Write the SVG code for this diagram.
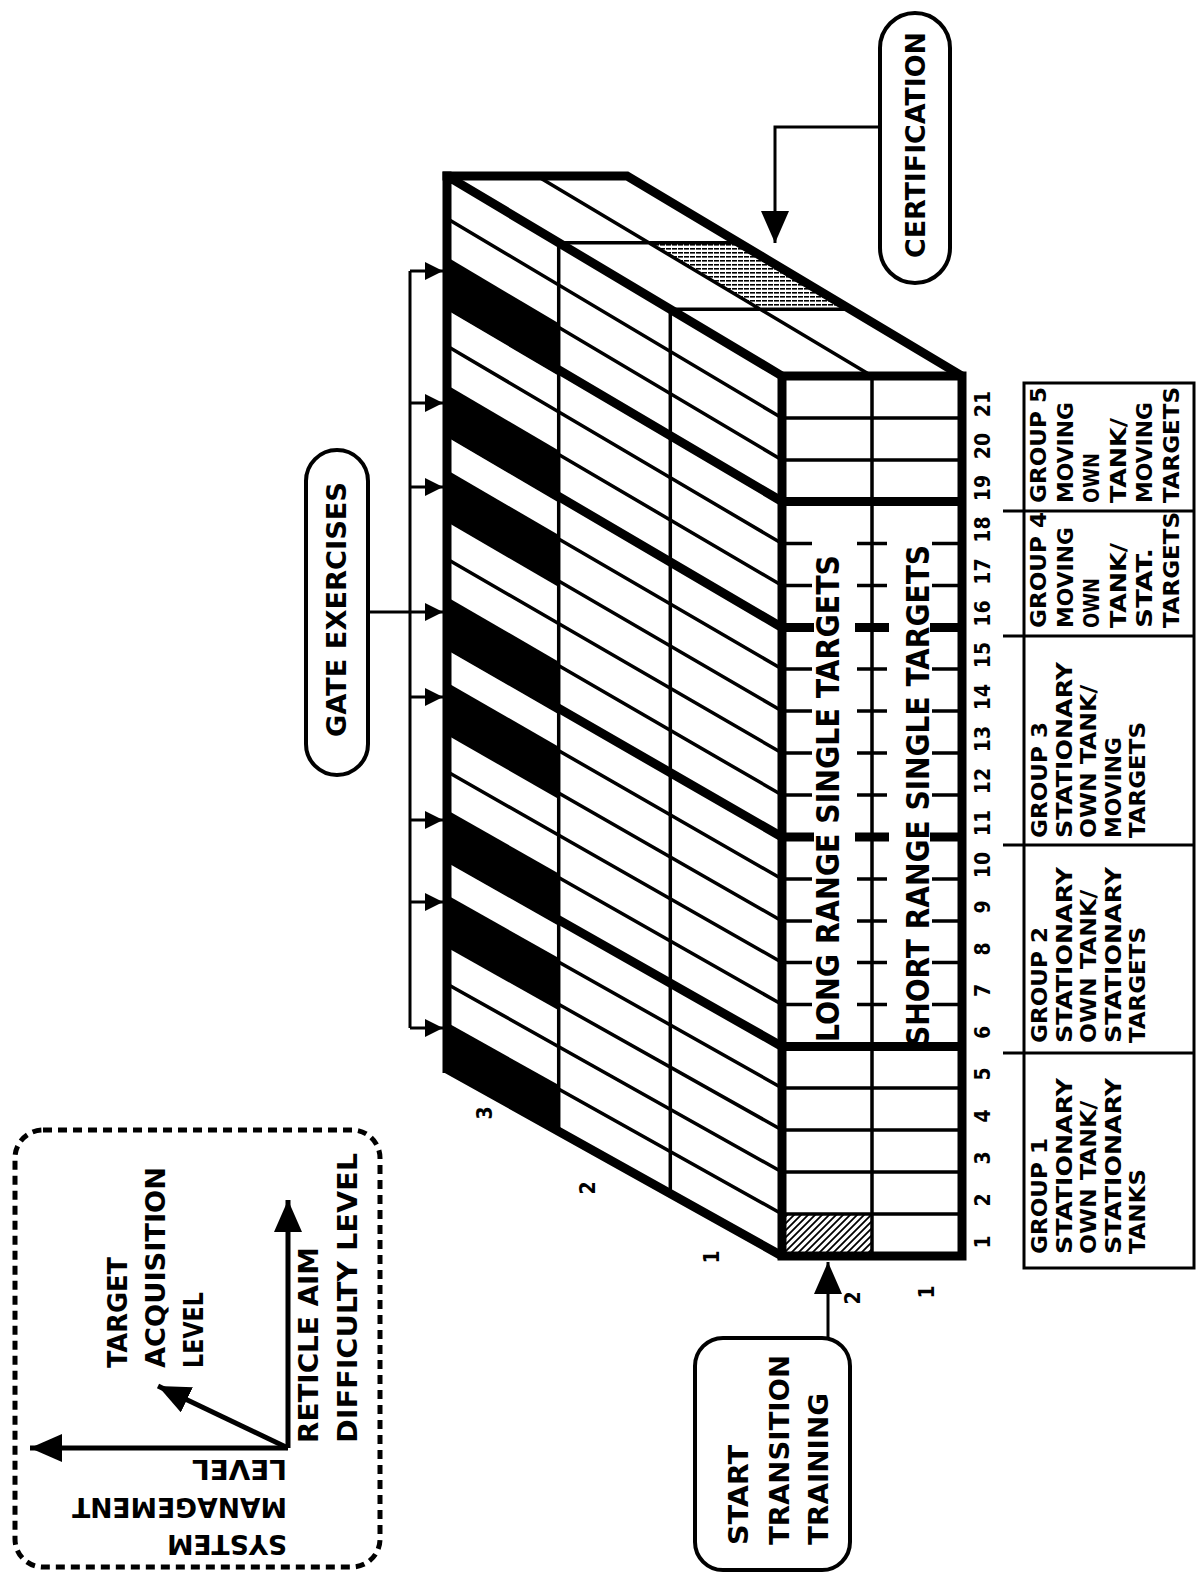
<svg xmlns="http://www.w3.org/2000/svg" width="1199" height="1573" viewBox="0 0 1199 1573">
<style>
.b{font-family:'DejaVu Sans Condensed','DejaVu Sans','Liberation Sans',sans-serif;font-weight:700;fill:#000}
.thin{stroke:#000;stroke-width:3.5;fill:none}
.thick{stroke:#000;stroke-width:9;fill:none}
.med{stroke:#000;stroke-width:3;fill:none}
.ax{stroke:#000;stroke-width:5;fill:none}
.box{fill:#fff;stroke:#000;stroke-width:4}
</style>
<defs>
<marker id="ag" viewBox="0 0 18 18" refX="18" refY="9" markerWidth="18" markerHeight="18" markerUnits="userSpaceOnUse" orient="auto"><path d="M0 0L18 9L0 18z"/></marker>
<marker id="ab" viewBox="0 0 32 28" refX="32" refY="14" markerWidth="32" markerHeight="28" markerUnits="userSpaceOnUse" orient="auto"><path d="M0 0L32 14L0 28z"/></marker>
<pattern id="hh" width="6" height="4" patternUnits="userSpaceOnUse"><rect width="5" height="1.6" fill="#000"/></pattern>
<pattern id="dh" width="7" height="7" patternUnits="userSpaceOnUse"><path d="M0 7L7 0M-1 1L1 -1M6 8L8 6" stroke="#000" stroke-width="1.8"/></pattern>
</defs>
<rect width="1199" height="1573" fill="#fff"/>

<g id="box3d">
  <path class="thin" d="M447 1026.5L782 1214M447 984L782 1172M447 941.5L782 1130M447 899L782 1088M447 814L782 1004.5M447 771.5L782 962.5M447 729L782 921M447 686.5L782 879M447 601L782 795M447 559L782 753M447 516L782 711M447 474L782 669M447 389L782 585.5M447 346L782 543.5M447 261L782 460M447 218.5L782 418"/>
  <path class="thick" d="M447 856.5L782 1046.5M447 644L782 837M447 431L782 627.5M447 304L782 501.5"/>
  <g id="gate-cells" fill="#000">
    <polygon points="447,1022.5 558.7,1085 558.7,1131.3 447,1069"/>
    <polygon points="447,895 558.7,958 558.7,1010.3 447,947.5"/>
    <polygon points="447,810 558.7,873.5 558.7,925.8 447,862.5"/>
    <polygon points="447,682.5 558.7,746.7 558.7,799 447,735"/>
    <polygon points="447,597 558.7,661.7 558.7,714.3 447,650"/>
    <polygon points="447,470 558.7,535 558.7,587 447,522"/>
    <polygon points="447,385 558.7,450.5 558.7,502.5 447,437"/>
    <polygon points="447,257 558.7,323.3 558.7,375.8 447,310"/>
  </g>
  <path class="thin" d="M558.7 242.7V1131.3M670.3 309.3V1193.7"/>
  <path class="thick" d="M447 176L782 376M447 1069L782 1256M447 171.5V1073"/>
  <polygon points="648.7,242.7 738.7,242.7 850.3,309.3 760.3,309.3" fill="url(#hh)"/>
  <path class="thin" d="M537 176L872 376M558.7 242.7H738.7M670.3 309.3H850.3"/>
  <path class="thick" d="M442.5 176H627L962 376"/>
  <rect x="782" y="1214" width="90" height="42" fill="url(#dh)"/>
  <path class="thin" d="M872 376V1256M782 1214H962M782 1172H962M782 1130H962M782 1088H962M782 460H962M782 418H962"/>
  <path class="thin" d="M782 1004.5H812M857 1004.5H887M932 1004.5H962M782 962.5H812M857 962.5H887M932 962.5H962M782 921H812M857 921H887M932 921H962M782 879H812M857 879H887M932 879H962M782 795H812M857 795H887M932 795H962M782 753H812M857 753H887M932 753H962M782 711H812M857 711H887M932 711H962M782 669H812M857 669H887M932 669H962M782 585.5H812M857 585.5H887M932 585.5H962M782 543.5H812M857 543.5H887M932 543.5H962"/>
  <path class="thick" d="M782 837H814M855 837H889M930 837H962M782 627.5H814M855 627.5H889M930 627.5H962M782 1046.5H962M782 501.5H962"/>
  <rect x="782" y="376" width="180" height="880" fill="none" stroke="#000" stroke-width="9"/>
  <text class="b" font-size="32" x="-1042" y="839" textLength="487" lengthAdjust="spacingAndGlyphs" transform="rotate(-90)">LONG RANGE SINGLE TARGETS</text>
  <text class="b" font-size="32" x="-1046" y="929" textLength="501" lengthAdjust="spacingAndGlyphs" transform="rotate(-90)">SHORT RANGE SINGLE TARGETS</text>
</g>

<g id="column-numbers" class="b" font-size="21" text-anchor="middle">
  <text x="-1242" y="990" transform="rotate(-90)">1</text>
  <text x="-1200" y="990" transform="rotate(-90)">2</text>
  <text x="-1158" y="990" transform="rotate(-90)">3</text>
  <text x="-1116" y="990" transform="rotate(-90)">4</text>
  <text x="-1074" y="990" transform="rotate(-90)">5</text>
  <text x="-1032.5" y="990" transform="rotate(-90)">6</text>
  <text x="-990.5" y="990" transform="rotate(-90)">7</text>
  <text x="-949" y="990" transform="rotate(-90)">8</text>
  <text x="-907" y="990" transform="rotate(-90)">9</text>
  <text x="-865" y="990" transform="rotate(-90)">10</text>
  <text x="-823" y="990" transform="rotate(-90)">11</text>
  <text x="-781" y="990" transform="rotate(-90)">12</text>
  <text x="-739" y="990" transform="rotate(-90)">13</text>
  <text x="-697" y="990" transform="rotate(-90)">14</text>
  <text x="-655" y="990" transform="rotate(-90)">15</text>
  <text x="-613.5" y="990" transform="rotate(-90)">16</text>
  <text x="-571.5" y="990" transform="rotate(-90)">17</text>
  <text x="-529.5" y="990" transform="rotate(-90)">18</text>
  <text x="-488" y="990" transform="rotate(-90)">19</text>
  <text x="-446" y="990" transform="rotate(-90)">20</text>
  <text x="-404" y="990" transform="rotate(-90)">21</text>
</g>

<g id="level-labels" class="b" font-size="21" text-anchor="middle">
  <text x="-1113" y="492" transform="rotate(-90)">3</text>
  <text x="-1188" y="595" transform="rotate(-90)">2</text>
  <text x="-1257" y="719" transform="rotate(-90)">1</text>
  <text x="-1298" y="860" transform="rotate(-90)">2</text>
  <text x="-1292" y="934" transform="rotate(-90)">1</text>
</g>

<g id="group-table">
  <rect x="1024" y="383" width="170" height="885" fill="none" stroke="#000" stroke-width="3"/>
  <path class="med" d="M1003 511H1194M1003 636H1194M1003 845H1194M1003 1053H1194"/>
  <g class="b" font-size="22">
    <g id="group1">
      <text x="-1254" y="1047" textLength="116" lengthAdjust="spacingAndGlyphs" transform="rotate(-90)">GROUP 1</text>
      <text x="-1254" y="1071.5" textLength="176" lengthAdjust="spacingAndGlyphs" transform="rotate(-90)">STATIONARY</text>
      <text x="-1254" y="1096" textLength="153" lengthAdjust="spacingAndGlyphs" transform="rotate(-90)">OWN TANK/</text>
      <text x="-1254" y="1120.5" textLength="176" lengthAdjust="spacingAndGlyphs" transform="rotate(-90)">STATIONARY</text>
      <text x="-1254" y="1145" textLength="85" lengthAdjust="spacingAndGlyphs" transform="rotate(-90)">TANKS</text>
    </g>
    <g id="group2">
      <text x="-1043" y="1047" textLength="116" lengthAdjust="spacingAndGlyphs" transform="rotate(-90)">GROUP 2</text>
      <text x="-1043" y="1071.5" textLength="176" lengthAdjust="spacingAndGlyphs" transform="rotate(-90)">STATIONARY</text>
      <text x="-1043" y="1096" textLength="153" lengthAdjust="spacingAndGlyphs" transform="rotate(-90)">OWN TANK/</text>
      <text x="-1043" y="1120.5" textLength="176" lengthAdjust="spacingAndGlyphs" transform="rotate(-90)">STATIONARY</text>
      <text x="-1043" y="1145" textLength="116" lengthAdjust="spacingAndGlyphs" transform="rotate(-90)">TARGETS</text>
    </g>
    <g id="group3">
      <text x="-838" y="1047" textLength="116" lengthAdjust="spacingAndGlyphs" transform="rotate(-90)">GROUP 3</text>
      <text x="-838" y="1071.5" textLength="176" lengthAdjust="spacingAndGlyphs" transform="rotate(-90)">STATIONARY</text>
      <text x="-838" y="1096" textLength="153" lengthAdjust="spacingAndGlyphs" transform="rotate(-90)">OWN TANK/</text>
      <text x="-838" y="1120.5" textLength="101" lengthAdjust="spacingAndGlyphs" transform="rotate(-90)">MOVING</text>
      <text x="-838" y="1145" textLength="116" lengthAdjust="spacingAndGlyphs" transform="rotate(-90)">TARGETS</text>
    </g>
    <g id="group4">
      <text x="-628" y="1046" textLength="116" lengthAdjust="spacingAndGlyphs" transform="rotate(-90)">GROUP 4</text>
      <text x="-628" y="1072.5" textLength="101" lengthAdjust="spacingAndGlyphs" transform="rotate(-90)">MOVING</text>
      <text x="-628" y="1099" textLength="50" lengthAdjust="spacingAndGlyphs" transform="rotate(-90)">OWN</text>
      <text x="-628" y="1125.5" textLength="85" lengthAdjust="spacingAndGlyphs" transform="rotate(-90)">TANK/</text>
      <text x="-628" y="1152" textLength="80" lengthAdjust="spacingAndGlyphs" transform="rotate(-90)">STAT.</text>
      <text x="-628" y="1178.5" textLength="116" lengthAdjust="spacingAndGlyphs" transform="rotate(-90)">TARGETS</text>
    </g>
    <g id="group5">
      <text x="-503" y="1046" textLength="116" lengthAdjust="spacingAndGlyphs" transform="rotate(-90)">GROUP 5</text>
      <text x="-503" y="1072.5" textLength="101" lengthAdjust="spacingAndGlyphs" transform="rotate(-90)">MOVING</text>
      <text x="-503" y="1099" textLength="50" lengthAdjust="spacingAndGlyphs" transform="rotate(-90)">OWN</text>
      <text x="-503" y="1125.5" textLength="85" lengthAdjust="spacingAndGlyphs" transform="rotate(-90)">TANK/</text>
      <text x="-503" y="1152" textLength="101" lengthAdjust="spacingAndGlyphs" transform="rotate(-90)">MOVING</text>
      <text x="-503" y="1178.5" textLength="116" lengthAdjust="spacingAndGlyphs" transform="rotate(-90)">TARGETS</text>
    </g>
  </g>
</g>

<g id="gate-exercises">
  <rect class="box" x="306" y="450" width="62" height="325" rx="31"/>
  <text class="b" font-size="26" x="-737" y="346" textLength="255" lengthAdjust="spacingAndGlyphs" transform="rotate(-90)">GATE EXERCISES</text>
</g>

<g id="certification">
  <rect class="box" x="880" y="13" width="70" height="270" rx="35"/>
  <text class="b" font-size="26" x="-258" y="925" textLength="226" lengthAdjust="spacingAndGlyphs" transform="rotate(-90)">CERTIFICATION</text>
</g>

<g id="start-transition">
  <rect class="box" x="695" y="1338" width="155" height="232" rx="28"/>
  <g class="b" font-size="27">
    <text x="-1545" y="748" textLength="100" lengthAdjust="spacingAndGlyphs" transform="rotate(-90)">START</text>
    <text x="-1545" y="789" textLength="190" lengthAdjust="spacingAndGlyphs" transform="rotate(-90)">TRANSITION</text>
    <text x="-1545" y="828" textLength="152" lengthAdjust="spacingAndGlyphs" transform="rotate(-90)">TRAINING</text>
  </g>
</g>

<g id="legend">
  <rect x="15" y="1130" width="365" height="437" rx="28" fill="none" stroke="#000" stroke-width="5" stroke-dasharray="9 6"/>
  <path class="ax" d="M288 1448V1200" marker-end="url(#ab)"/>
  <path class="ax" d="M288 1448H30" marker-end="url(#ab)"/>
  <path class="ax" d="M288 1448L158 1386" marker-end="url(#ab)"/>
  <g class="b" font-size="27">
    <text x="-1368" y="127" textLength="111" lengthAdjust="spacingAndGlyphs" transform="rotate(-90)">TARGET</text>
    <text x="-1368" y="165" textLength="201" lengthAdjust="spacingAndGlyphs" transform="rotate(-90)">ACQUISITION</text>
    <text x="-1368" y="203" textLength="76" lengthAdjust="spacingAndGlyphs" transform="rotate(-90)">LEVEL</text>
    <text x="-1443" y="318" textLength="196" lengthAdjust="spacingAndGlyphs" transform="rotate(-90)">RETICLE AIM</text>
    <text x="-1443" y="357" textLength="290" lengthAdjust="spacingAndGlyphs" transform="rotate(-90)">DIFFICULTY LEVEL</text>
    <text x="-287" y="-1460" textLength="95" lengthAdjust="spacingAndGlyphs" transform="rotate(180)">LEVEL</text>
    <text x="-287" y="-1498" textLength="215" lengthAdjust="spacingAndGlyphs" transform="rotate(180)">MANAGEMENT</text>
    <text x="-287" y="-1535" textLength="120" lengthAdjust="spacingAndGlyphs" transform="rotate(180)">SYSTEM</text>
  </g>
</g>

<g id="connectors">
  <path class="med" d="M410 271V1028M368 612H410"/>
  <g class="med" marker-end="url(#ag)">
    <path d="M410 271H443"/>
    <path d="M410 403H443"/>
    <path d="M410 487H443"/>
    <path d="M410 612H443"/>
    <path d="M410 697H443"/>
    <path d="M410 820H443"/>
    <path d="M410 902H443"/>
    <path d="M410 1028H443"/>
  </g>
  <path class="med" d="M880 127H775V243" marker-end="url(#ab)"/>
  <path class="med" d="M828 1338V1262" marker-end="url(#ab)"/>
</g>
</svg>
